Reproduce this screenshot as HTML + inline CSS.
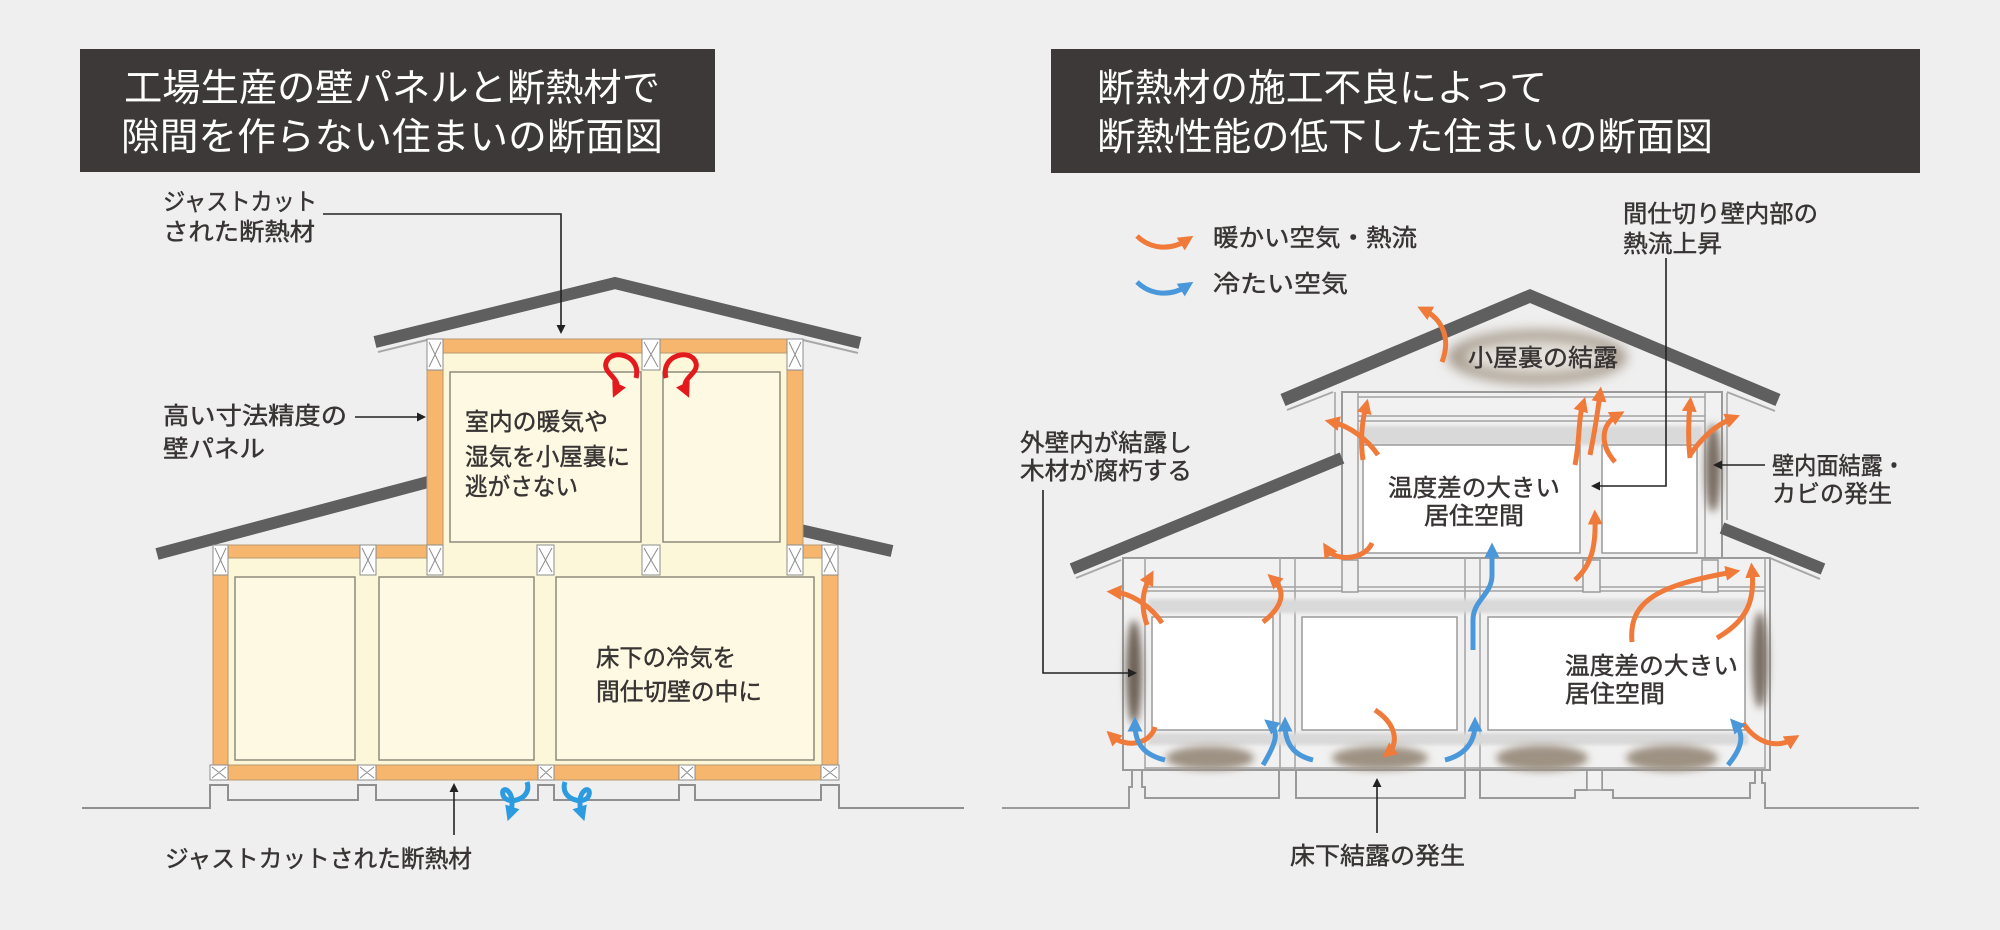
<!DOCTYPE html>
<html><head><meta charset="utf-8">
<style>
html,body{margin:0;padding:0;background:#efefef;}
svg{display:block;}
text{font-family:"Liberation Sans","Noto Sans CJK JP",sans-serif;}
.lb{font-size:24px;fill:#383434;stroke:#383434;stroke-width:0.45px;}
.tt{font-size:38px;fill:#ffffff;}
</style></head><body>
<svg width="2000" height="930" viewBox="0 0 2000 930" xmlns="http://www.w3.org/2000/svg">
<defs>
 <marker id="mo" viewBox="0 0 10 10" refX="5" refY="5" markerWidth="15" markerHeight="15" markerUnits="userSpaceOnUse" orient="auto"><path d="M0,0 L10,5 L0,10 z" fill="#f07a3a"/></marker>
 <marker id="mb" viewBox="0 0 10 10" refX="5" refY="5" markerWidth="15" markerHeight="15" markerUnits="userSpaceOnUse" orient="auto"><path d="M0,0 L10,5 L0,10 z" fill="#4a98da"/></marker>
 <marker id="mr" viewBox="0 0 10 10" refX="5" refY="5" markerWidth="15" markerHeight="15" markerUnits="userSpaceOnUse" orient="auto"><path d="M0,0 L10,5 L0,10 z" fill="#e3191e"/></marker>
 <marker id="mc" viewBox="0 0 10 10" refX="5" refY="5" markerWidth="15" markerHeight="15" markerUnits="userSpaceOnUse" orient="auto"><path d="M0,0 L10,5 L0,10 z" fill="#2d9be0"/></marker>
 <marker id="mk" viewBox="0 0 10 10" refX="0" refY="5" markerWidth="11" markerHeight="9" markerUnits="userSpaceOnUse" orient="auto"><path d="M0,0 L10,5 L0,10 z" fill="#222"/></marker>
 <filter id="b6" x="-60%" y="-60%" width="220%" height="220%"><feGaussianBlur stdDeviation="6"/></filter>
 <filter id="b4" x="-60%" y="-60%" width="220%" height="220%"><feGaussianBlur stdDeviation="4"/></filter>
 <filter id="b2" x="-20%" y="-60%" width="140%" height="220%"><feGaussianBlur stdDeviation="1.5"/></filter>
</defs>
<rect width="2000" height="930" fill="#efefef"/>

<!-- ================= TITLES ================= -->
<rect x="80" y="49" width="635" height="123" fill="#3d3938"/>
<text class="tt" x="124" y="101" textLength="536" lengthAdjust="spacingAndGlyphs">工場生産の壁パネルと断熱材で</text>
<text class="tt" x="121" y="150" textLength="542" lengthAdjust="spacingAndGlyphs">隙間を作らない住まいの断面図</text>

<rect x="1051" y="49" width="869" height="124" fill="#3d3938"/>
<text class="tt" x="1097" y="101" textLength="450" lengthAdjust="spacingAndGlyphs">断熱材の施工不良によって</text>
<text class="tt" x="1097" y="150" textLength="616" lengthAdjust="spacingAndGlyphs">断熱性能の低下した住まいの断面図</text>

<!-- ================= LEFT HOUSE ================= -->
<path d="M82,808 H210 V785 H228 V800 H358 V785 H376 V800 H538 V785 H554 V800 H679 V785 H695 V800 H821 V785 H839 V808 H964" fill="none" stroke="#8f8f8f" stroke-width="2"/>

<polyline points="375,342 615,283 860,343" fill="none" stroke="#5f5f5f" stroke-width="12" stroke-linejoin="miter"/>
<line x1="378" y1="352" x2="427" y2="340" stroke="#a8a8a8" stroke-width="2"/>
<line x1="803" y1="340" x2="858" y2="353" stroke="#a8a8a8" stroke-width="2"/>
<line x1="157" y1="554" x2="428" y2="482" stroke="#5f5f5f" stroke-width="12"/>
<line x1="800" y1="530" x2="892" y2="551" stroke="#5f5f5f" stroke-width="12"/>

<rect x="443" y="339" width="344" height="236" fill="#fdf7da"/>
<rect x="228" y="545" width="594" height="220" fill="#fdf7da"/>

<g fill="#fdf9e2" stroke="#8d8b7c" stroke-width="1.5">
 <rect x="450" y="372" width="191" height="170"/>
 <rect x="663" y="372" width="117" height="170"/>
 <rect x="235" y="577" width="120" height="183"/>
 <rect x="379" y="577" width="155" height="183"/>
 <rect x="556" y="577" width="258" height="183"/>
</g>

<g fill="#f6b66e" stroke="#b89a70" stroke-width="1">
 <rect x="443" y="339" width="199" height="14"/>
 <rect x="660" y="339" width="127" height="14"/>
 <rect x="427" y="370" width="16" height="175"/>
 <rect x="787" y="370" width="16" height="175"/>
 <rect x="228" y="545" width="132" height="13"/>
 <rect x="376" y="545" width="51" height="13"/>
 <rect x="803" y="545" width="19" height="13"/>
 <rect x="213" y="575" width="15" height="190"/>
 <rect x="822" y="575" width="16" height="190"/>
 <rect x="210" y="765" width="629" height="15"/>
</g>

<g fill="#ffffff" stroke="#8c8c8c" stroke-width="1">
 <rect x="427" y="339" width="16" height="31"/>
 <rect x="642" y="339" width="18" height="31"/>
 <rect x="787" y="339" width="16" height="31"/>
 <rect x="427" y="545" width="16" height="30"/>
 <rect x="537" y="545" width="17" height="30"/>
 <rect x="642" y="545" width="18" height="30"/>
 <rect x="787" y="545" width="16" height="30"/>
 <rect x="822" y="545" width="16" height="30"/>
 <rect x="213" y="545" width="15" height="30"/>
 <rect x="360" y="545" width="16" height="30"/>
 <rect x="210" y="765" width="18" height="15"/>
 <rect x="358" y="765" width="18" height="15"/>
 <rect x="538" y="765" width="16" height="15"/>
 <rect x="679" y="765" width="16" height="15"/>
 <rect x="821" y="765" width="18" height="15"/>
</g>
<path fill="none" stroke="#8c8c8c" stroke-width="1" d="
M429,342 L441,367 M441,342 L429,367
M644,342 L658,367 M658,342 L644,367
M789,342 L801,367 M801,342 L789,367
M429,548 L441,572 M441,548 L429,572
M539,548 L552,572 M552,548 L539,572
M644,548 L658,572 M658,548 L644,572
M789,548 L801,572 M801,548 L789,572
M824,548 L836,572 M836,548 L824,572
M215,548 L226,572 M226,548 L215,572
M362,548 L374,572 M374,548 L362,572
M212,767 L226,778 M226,767 L212,778
M360,767 L374,778 M374,767 L360,778
M540,767 L552,778 M552,767 L540,778
M681,767 L693,778 M693,767 L681,778
M823,767 L837,778 M837,767 L823,778"/>

<path d="M636,378 C642,354 610,348 606,363 C603,374 622,378 616,391" fill="none" stroke="#e3191e" stroke-width="5" marker-end="url(#mr)"/>
<path d="M666,378 C660,354 692,348 696,363 C699,374 680,378 686,391" fill="none" stroke="#e3191e" stroke-width="5" marker-end="url(#mr)"/>
<path d="M527,782 C533,800 506,806 503,795 C500,784 518,790 510,814" fill="none" stroke="#2d9be0" stroke-width="5" marker-end="url(#mc)"/>
<path d="M565,782 C559,800 586,806 589,795 C592,784 574,790 582,814" fill="none" stroke="#2d9be0" stroke-width="5" marker-end="url(#mc)"/>

<g fill="none" stroke="#222" stroke-width="1.6">
 <path d="M323,214 H561 V325" marker-end="url(#mk)"/>
 <path d="M355,417 H417" marker-end="url(#mk)"/>
 <path d="M454,835 V792" marker-end="url(#mk)"/>
</g>

<text class="lb" x="163" y="210" textLength="154" lengthAdjust="spacingAndGlyphs">ジャストカット</text>
<text class="lb" x="163" y="240" textLength="152" lengthAdjust="spacingAndGlyphs">された断熱材</text>
<text class="lb" x="163" y="424" textLength="184" lengthAdjust="spacingAndGlyphs">高い寸法精度の</text>
<text class="lb" x="163" y="457" textLength="102" lengthAdjust="spacingAndGlyphs">壁パネル</text>
<text class="lb" x="465" y="430" textLength="143" lengthAdjust="spacingAndGlyphs">室内の暖気や</text>
<text class="lb" x="465" y="465" textLength="165" lengthAdjust="spacingAndGlyphs">湿気を小屋裏に</text>
<text class="lb" x="465" y="495" textLength="113" lengthAdjust="spacingAndGlyphs">逃がさない</text>
<text class="lb" x="596" y="666" textLength="140" lengthAdjust="spacingAndGlyphs">床下の冷気を</text>
<text class="lb" x="596" y="700" textLength="166" lengthAdjust="spacingAndGlyphs">間仕切壁の中に</text>
<text class="lb" x="165" y="867" textLength="307" lengthAdjust="spacingAndGlyphs">ジャストカットされた断熱材</text>

<!-- ================= RIGHT HOUSE ================= -->
<path d="M1002,808 H1129 V787 H1132 V770 M1142,770 V787 H1145 V798 H1279 V770 M1296,770 V798 H1465 V770 M1480,770 V798 H1575 V790 H1587 V752 M1602,752 V790 H1613 V798 H1750 V783 H1755 V768 M1762,768 V783 H1765 V808 H1919" fill="none" stroke="#9a9a9a" stroke-width="2"/>
<rect x="1587" y="745" width="15" height="45" fill="#f2f2f2" stroke="#9a9a9a" stroke-width="1.5"/>

<rect x="1342" y="392" width="380" height="168" fill="#f1f1f1" stroke="#9a9a9a" stroke-width="2"/>
<g stroke="#a3a3a3" stroke-width="1.5" fill="none">
 <line x1="1358" y1="397" x2="1705" y2="397"/>
 <line x1="1358" y1="416" x2="1705" y2="416"/>
 <line x1="1358" y1="421" x2="1705" y2="421"/>
 <line x1="1358" y1="392" x2="1358" y2="560"/>
 <line x1="1705" y1="392" x2="1705" y2="560"/>
 <line x1="1335" y1="392" x2="1335" y2="455"/>
 <line x1="1727" y1="393" x2="1727" y2="520"/>
</g>
<rect x="1362" y="426" width="340" height="19" fill="#d9d9d9" filter="url(#b2)"/>
<g fill="#ffffff" stroke="#9a9a9a" stroke-width="1.5">
 <rect x="1363" y="445" width="217" height="108"/>
 <rect x="1602" y="445" width="95" height="108"/>
</g>

<rect x="1123" y="558" width="647" height="212" fill="#f1f1f1" stroke="#9a9a9a" stroke-width="2"/>
<g stroke="#a3a3a3" stroke-width="1.5" fill="none">
 <line x1="1145" y1="587" x2="1765" y2="587"/>
 <line x1="1145" y1="591" x2="1765" y2="591"/>
 <line x1="1145" y1="558" x2="1145" y2="770"/>
 <line x1="1765" y1="558" x2="1765" y2="770"/>
 <line x1="1280" y1="558" x2="1280" y2="770"/>
 <line x1="1295" y1="558" x2="1295" y2="770"/>
 <line x1="1465" y1="558" x2="1465" y2="770"/>
 <line x1="1480" y1="558" x2="1480" y2="770"/>
 <line x1="1145" y1="768" x2="1765" y2="768"/>
</g>
<g fill="#f1f1f1" stroke="#9a9a9a" stroke-width="1.5">
 <rect x="1342" y="560" width="16" height="32"/>
 <rect x="1583" y="560" width="17" height="32"/>
 <rect x="1702" y="560" width="16" height="32"/>
</g>
<rect x="1148" y="599" width="600" height="14" fill="#d9d9d9" filter="url(#b2)"/>
<rect x="1148" y="733" width="600" height="12" fill="#d9d9d9" filter="url(#b2)"/>
<g fill="#ffffff" stroke="#9a9a9a" stroke-width="1.5">
 <rect x="1152" y="617" width="121" height="113"/>
 <rect x="1302" y="617" width="155" height="113"/>
 <rect x="1488" y="617" width="257" height="113"/>
</g>

<g filter="url(#b4)">
 <ellipse cx="1210" cy="758" rx="44" ry="12" fill="#9e9283"/>
 <ellipse cx="1380" cy="758" rx="48" ry="12" fill="#9e9283"/>
 <ellipse cx="1542" cy="758" rx="46" ry="13" fill="#9e9283"/>
 <ellipse cx="1672" cy="758" rx="46" ry="13" fill="#9e9283"/>
 <ellipse cx="1134" cy="672" rx="8" ry="52" fill="#6e6257"/>
 <ellipse cx="1760" cy="660" rx="8" ry="48" fill="#7a6e63"/>
 <ellipse cx="1713" cy="468" rx="8" ry="44" fill="#7a6e63"/>
</g>
<ellipse cx="1537" cy="357" rx="90" ry="27" fill="#a89d8f" filter="url(#b6)"/>
<ellipse cx="1537" cy="357" rx="72" ry="17" fill="#e4e0da" filter="url(#b6)"/>

<polyline points="1283,400 1530,296 1778,400" fill="none" stroke="#5f5f5f" stroke-width="13" stroke-linejoin="miter"/>
<line x1="1287" y1="410" x2="1333" y2="392" stroke="#a8a8a8" stroke-width="2"/>
<line x1="1727" y1="392" x2="1775" y2="411" stroke="#a8a8a8" stroke-width="2"/>
<line x1="1072" y1="569" x2="1342" y2="458" stroke="#5f5f5f" stroke-width="12"/>
<line x1="1076" y1="578" x2="1121" y2="560" stroke="#a8a8a8" stroke-width="2"/>
<line x1="1722" y1="528" x2="1823" y2="569" stroke="#5f5f5f" stroke-width="12"/>
<line x1="1770" y1="558" x2="1820" y2="579" stroke="#a8a8a8" stroke-width="2"/>

<g fill="none" stroke="#f07a3a" stroke-width="5" marker-end="url(#mo)">
 <path d="M1442,362 C1452,336 1440,318 1424,310"/>
 <path d="M1378,455 C1368,440 1350,426 1332,422"/>
 <path d="M1363,460 C1360,440 1362,422 1366,406"/>
 <path d="M1575,465 C1580,440 1578,420 1583,404"/>
 <path d="M1590,455 C1595,430 1598,410 1600,394"/>
 <path d="M1615,462 C1600,445 1600,425 1618,415"/>
 <path d="M1690,458 C1688,440 1688,425 1690,404"/>
 <path d="M1690,455 C1700,440 1715,425 1733,418"/>
 <path d="M1372,543 C1365,560 1335,562 1327,549"/>
 <path d="M1575,580 C1592,565 1596,545 1595,517"/>
 <path d="M1632,642 C1628,600 1660,585 1733,572"/>
 <path d="M1717,638 C1748,620 1755,600 1752,570"/>
 <path d="M1743,723 C1758,745 1778,748 1793,739"/>
 <path d="M1162,623 C1150,605 1130,593 1114,592"/>
 <path d="M1147,625 C1140,605 1143,590 1150,577"/>
 <path d="M1263,622 C1285,605 1285,590 1273,579"/>
 <path d="M1155,727 C1150,745 1125,748 1112,736"/>
 <path d="M1375,710 C1398,725 1398,745 1388,753"/>
 <path d="M1137,236 C1150,249 1170,251 1187,240"/>
</g>
<g fill="none" stroke="#4a98da" stroke-width="5" marker-end="url(#mb)">
 <path d="M1473,650 L1473,620 C1473,600 1492,595 1492,575 L1492,550"/>
 <path d="M1165,760 C1145,755 1135,745 1135,724"/>
 <path d="M1263,765 C1275,745 1280,732 1270,724"/>
 <path d="M1313,760 C1292,755 1285,742 1285,724"/>
 <path d="M1445,760 C1465,755 1475,742 1475,724"/>
 <path d="M1728,765 C1742,748 1745,735 1735,724"/>
 <path d="M1137,282 C1150,295 1170,297 1187,286"/>
</g>

<g fill="none" stroke="#222" stroke-width="1.6">
 <path d="M1666,258 V486 H1600" marker-end="url(#mk)"/>
 <path d="M1043,490 V673 H1128" marker-end="url(#mk)"/>
 <path d="M1765,465 H1722" marker-end="url(#mk)"/>
 <path d="M1377,833 V787" marker-end="url(#mk)"/>
</g>

<text class="lb" x="1213" y="246" textLength="204" lengthAdjust="spacingAndGlyphs">暖かい空気・熱流</text>
<text class="lb" x="1213" y="292" textLength="135" lengthAdjust="spacingAndGlyphs">冷たい空気</text>
<text class="lb" x="1623" y="222" textLength="195" lengthAdjust="spacingAndGlyphs">間仕切り壁内部の</text>
<text class="lb" x="1623" y="252" textLength="99" lengthAdjust="spacingAndGlyphs">熱流上昇</text>
<text class="lb" x="1468" y="366" textLength="150" lengthAdjust="spacingAndGlyphs">小屋裏の結露</text>
<text class="lb" x="1020" y="451" textLength="172" lengthAdjust="spacingAndGlyphs">外壁内が結露し</text>
<text class="lb" x="1020" y="479" textLength="172" lengthAdjust="spacingAndGlyphs">木材が腐朽する</text>
<text class="lb" x="1772" y="474" textLength="133" lengthAdjust="spacingAndGlyphs">壁内面結露・</text>
<text class="lb" x="1772" y="502" textLength="120" lengthAdjust="spacingAndGlyphs">カビの発生</text>
<text class="lb" x="1388" y="496" textLength="172" lengthAdjust="spacingAndGlyphs">温度差の大きい</text>
<text class="lb" x="1424" y="524" textLength="100" lengthAdjust="spacingAndGlyphs">居住空間</text>
<text class="lb" x="1565" y="674" textLength="173" lengthAdjust="spacingAndGlyphs">温度差の大きい</text>
<text class="lb" x="1565" y="702" textLength="100" lengthAdjust="spacingAndGlyphs">居住空間</text>
<text class="lb" x="1290" y="864" textLength="175" lengthAdjust="spacingAndGlyphs">床下結露の発生</text>
</svg>
</body></html>
